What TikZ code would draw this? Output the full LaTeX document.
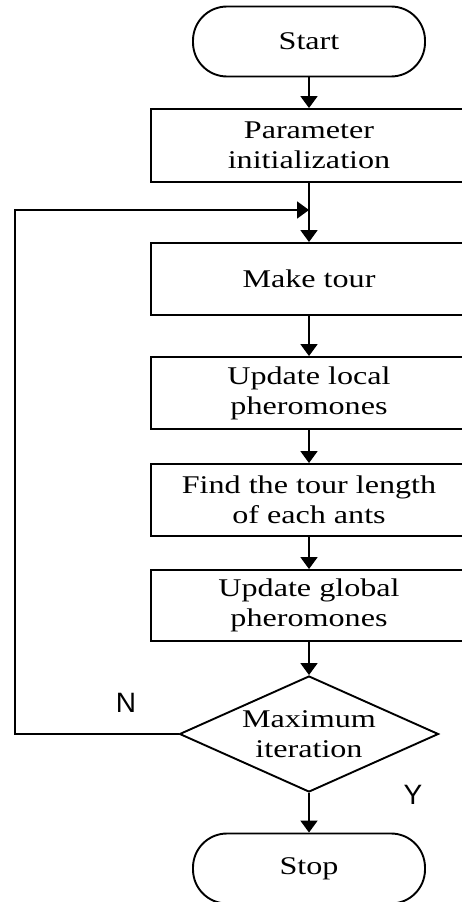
\documentclass[tikz,border=0pt]{standalone}
\usepackage{fontspec}
\setmainfont{Liberation Serif}[FakeStretch=1.26]
\newfontfamily\labelfont{Liberation Sans}
\usetikzlibrary{shapes.geometric,arrows.meta}
\begin{document}
\begin{tikzpicture}[x=1pt,y=-1pt,
  txt/.style={font=\fontsize{25.5}{30}\selectfont, align=center, inner sep=0pt},
  box/.style={txt, draw, line width=1.9pt, minimum width=316pt, minimum height=72pt},
  term/.style={txt, draw, line width=1.9pt, rounded corners=34pt, minimum width=232pt, minimum height=70pt},
  decision/.style={txt, draw, line width=1.9pt, diamond, aspect=2.23, minimum width=259pt, minimum height=116pt},
  arr/.style={line width=1.9pt, -{Triangle[length=12pt,width=17pt]}},
  yn/.style={font=\labelfont\fontsize{28}{30}\selectfont, inner sep=0pt}]
\useasboundingbox (0,0) rectangle (462,902);
\clip (0,0) rectangle (462,902);
\node[term] (start) at (309,41.5) {Start};
\node[box, minimum height=73pt] (param) at (309,145.5) {Parameter\\initialization};
\node[box] (make) at (309,279) {Make tour};
\node[box] (local) at (309,393) {Update local\\pheromones};
\node[box] (find) at (309,500) {Find the tour length\\of each ants};
\node[box, minimum height=71pt] (global) at (309,605.5) {Update global\\pheromones};
\node[decision] (max) at (309,734) {Maximum\\iteration};
\node[term] (stop) at (309,868.5) {Stop};
\node[yn] (n) at (126,703) {N};
\node[yn] (y) at (413,795) {Y};
\coordinate (corner) at (15,734);
\coordinate (join) at (309,210);
\draw[arr] (start.south) -- (param.north);
\draw[arr] (param.south) -- (make.north);
\draw[arr] (make.south) -- (local.north);
\draw[arr] (local.south) -- (find.north);
\draw[arr] (find.south) -- (global.north);
\draw[arr] (global.south) -- (max.north);
\draw[arr] (max.south) -- (stop.north);
\draw[arr] (max.west) -- (corner) |- (join);
\end{tikzpicture}
\end{document}
